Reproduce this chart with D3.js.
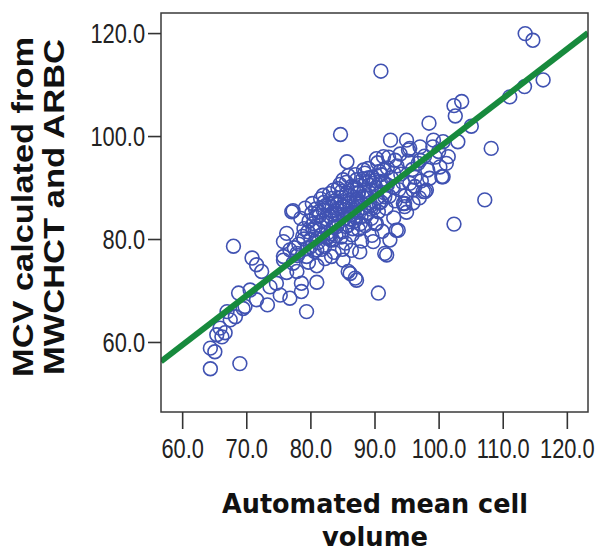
<!DOCTYPE html>
<html>
<head>
<meta charset="utf-8">
<script src="https://cdn.jsdelivr.net/npm/d3@7"></script>
<style>
  body { margin: 0; background: #fff; }
  svg { display: block; }
</style>
</head>
<body>
<svg id="chart" width="595" height="552"></svg>
<script>
// Automated MCV (x) vs MCV calculated from MWCHCT and ARBC (y)
const mcvAuto = [
  113.5, 114.7, 91.0, 116.3, 113.4, 111.1, 103.6, 102.4, 102.6, 98.5, 105.1, 84.7, 108.2, 107.2, 102.4,
  103.0, 100.7, 99.1, 101.2, 100.2, 100.5, 98.1, 96.3, 94.7, 95.5, 95.0, 97.1, 92.5, 85.7, 90.3,
  91.4, 93.2, 95.3, 97.1, 99.2, 100.7, 88.3, 87.2, 85.1, 83.6, 82.0, 98.6, 97.9,
  93.4, 90.3, 94.7, 97.6, 90.6, 87.0, 85.9, 91.9, 87.7, 89.8, 92.4, 93.7, 90.1, 91.6, 94.5, 96.0,
  85.1, 83.3, 86.2, 87.2,
  68.0, 70.9, 71.6, 72.4, 68.8, 70.6, 67.0, 67.5, 65.9, 66.7, 66.2, 64.4, 65.1, 64.4, 69.0,
  79.4, 81.0, 76.8, 73.3, 75.3, 71.6, 69.8, 73.7, 74.7, 78.6, 78.6, 76.3, 77.9, 75.8, 77.3,
  77.9, 79.4, 81.0, 77.1, 80.2, 76.3, 75.8, 76.8, 75.8, 77.3, 69.5, 68.3, 65.4,
  78.2, 78.8, 79.0, 79.5, 79.8, 80.1, 80.4, 80.6, 80.9, 81.2, 81.5, 81.8, 82.0, 82.2, 82.5,
  82.7, 82.9, 83.1, 83.4, 83.6, 83.8, 84.0, 84.2, 84.4, 84.7, 84.9, 85.1, 85.3, 85.5, 85.7,
  85.9, 86.1, 86.3, 86.5, 86.7, 86.9, 87.1, 87.3, 87.5, 87.7, 87.9, 88.1, 88.3, 88.5, 88.7,
  88.9, 89.1, 89.3, 89.5, 89.7, 89.9, 90.2, 90.4, 90.6, 90.8, 91.0, 91.3, 91.5, 91.8, 92.0,
  92.3, 92.6, 92.9, 93.2, 93.5, 93.8, 94.1, 94.4, 94.8, 95.2, 95.5, 95.9, 96.3, 96.8, 97.3,
  97.8, 98.3,
  77.5, 78.0, 78.5, 79.2, 79.7, 80.3, 81.0, 81.6, 82.3, 83.0, 83.7, 84.3, 85.0, 85.6, 86.4,
  87.0, 88.0, 89.0, 89.6, 90.5, 91.2, 92.2, 93.0, 94.0, 95.0, 96.0, 97.0, 99.5, 100.0, 101.5,
  80.5, 81.4, 82.8, 83.9, 84.6, 85.4, 86.2, 86.8, 87.6, 88.4, 89.2, 90.0, 91.0, 92.0, 93.0,
  83.2, 84.1, 85.8, 86.6, 87.8, 88.6, 89.4, 90.7, 91.6, 80.0, 81.8, 83.5, 84.8, 79.0,
  80.7, 81.3, 81.9, 82.4, 82.6, 83.0, 83.3, 83.8, 84.1, 84.5, 84.9, 85.2, 85.6, 86.0, 86.4,
  86.7, 87.1, 87.4, 87.9, 88.2, 88.8, 89.3, 89.8, 90.3, 90.9, 91.4, 79.6, 80.8, 82.1, 83.4,
  84.6, 85.9, 87.2, 88.5, 81.1, 82.9, 84.2, 86.1, 87.5, 89.1
];
const mcvCalc = [
  119.9, 118.6, 112.6, 110.9, 109.6, 107.6, 106.7, 105.9, 103.9, 102.5, 101.9, 100.3, 97.6, 87.6, 82.9,
  98.9, 98.9, 97.9, 94.7, 94.0, 92.1, 89.5, 90.2, 86.9, 97.6, 99.2, 95.3, 99.2, 95.0, 95.6,
  96.0, 95.3, 97.3, 97.9, 99.2, 92.1, 93.4, 91.5, 91.5, 89.5, 88.5, 91.8, 89.2,
  81.7, 83.0, 86.3, 89.2, 69.5, 72.4, 73.7, 76.9, 77.5, 79.5, 79.8, 81.7, 83.0, 77.2, 86.9, 89.5,
  75.9, 76.6, 73.3, 72.0,
  78.6, 76.3, 75.0, 73.7, 69.5, 70.1, 65.9, 64.3, 62.7, 61.8, 61.0, 58.8, 58.1, 54.8, 55.8,
  65.9, 71.6, 68.5, 67.2, 69.1, 68.2, 66.9, 70.7, 71.4, 69.8, 71.4, 73.5, 73.7, 75.9, 75.3,
  77.2, 76.6, 77.9, 85.3, 85.0, 81.1, 79.5, 77.9, 76.6, 85.5, 66.5, 64.9, 61.4,
  79.0, 80.5, 82.0, 78.2, 83.5, 80.0, 81.8, 77.6, 84.2, 79.3, 82.6, 80.8, 85.6, 78.5, 83.9,
  81.2, 86.8, 79.9, 84.8, 82.3, 87.4, 80.6, 85.9, 83.2, 88.0, 81.4, 86.3, 84.0, 79.2, 88.9,
  82.7, 86.9, 84.7, 80.8, 89.6, 83.5, 87.6, 85.2, 81.9, 90.4, 84.3, 88.2, 86.1, 82.6, 91.0,
  85.0, 89.1, 87.0, 84.0, 92.0, 86.0, 90.0, 88.0, 85.3, 93.1, 87.2, 91.1, 89.0, 86.0, 93.8,
  88.3, 91.9, 90.1, 87.4, 94.2, 89.6, 92.6, 91.0, 88.4, 95.1, 90.8, 93.5, 92.0, 94.7, 91.3,
  96.1, 93.4,
  78.3, 76.8, 84.0, 86.0, 75.5, 86.9, 74.8, 87.8, 76.2, 88.8, 77.4, 89.8, 78.0, 91.0, 77.8,
  92.5, 79.6, 93.7, 80.7, 94.8, 81.5, 95.9, 84.1, 96.5, 85.2, 87.0, 88.0, 95.9, 97.0, 96.0,
  83.0, 84.5, 83.0, 85.0, 86.0, 87.2, 88.4, 85.6, 86.8, 89.4, 90.5, 91.4, 92.5, 90.5, 92.8,
  81.0, 82.4, 84.8, 82.0, 83.0, 84.5, 85.8, 87.0, 88.2, 78.5, 78.0, 79.8, 80.4, 80.0,
  82.2, 85.3, 83.6, 86.5, 80.2, 84.4, 87.9, 83.0, 86.7, 84.6, 89.3, 85.7, 82.4, 87.5, 90.2,
  86.3, 84.1, 89.0, 87.0, 91.7, 88.0, 86.4, 90.8, 89.4, 91.2, 93.4, 81.4, 85.8, 87.1, 86.1,
  90.6, 92.3, 89.8, 92.8, 80.1, 80.5, 84.9, 83.9, 88.9, 91.9
];

// fit line: intercept, slope
const fitLine = [1.9, 0.958];

const xTicks = [60, 70, 80, 90, 100, 110, 120];
const yTicks = [60, 80, 100, 120];

const width = 595, height = 552;
const plot = { left: 161, right: 588, top: 13, bottom: 412 };

const svg = d3.select("#chart");

// scales
const xScale = d3.scaleLinear().domain([56.7, 123.3]).range([plot.left, plot.right]);
const yScale = d3.scaleLinear().domain([46.4, 123.9]).range([plot.bottom, plot.top]);

const points = mcvAuto.map((x, i) => ({ x, y: mcvCalc[i] }));

// clip to the plot frame
svg.append("clipPath").attr("id", "plotClip")
  .append("rect")
  .attr("x", plot.left).attr("y", plot.top)
  .attr("width", plot.right - plot.left).attr("height", plot.bottom - plot.top);

// points
svg.append("g")
  .attr("clip-path", "url(#plotClip)")
  .selectAll("circle")
  .data(points)
  .join("circle")
  .attr("cx", d => xScale(d.x))
  .attr("cy", d => yScale(d.y))
  .attr("r", 6.9)
  .attr("fill", "none")
  .attr("stroke", "#4052b2")
  .attr("stroke-width", 1.6);

// fit line across the whole x domain
const [b0, b1] = fitLine;
const lineData = xScale.domain().map(x => ({ x, y: b0 + b1 * x }));
svg.append("path")
  .datum(lineData)
  .attr("clip-path", "url(#plotClip)")
  .attr("fill", "none")
  .attr("stroke", "#178a3d")
  .attr("stroke-width", 6)
  .attr("d", d3.line().x(d => xScale(d.x)).y(d => yScale(d.y)));

// frame
svg.append("rect")
  .attr("x", plot.left).attr("y", plot.top)
  .attr("width", plot.right - plot.left).attr("height", plot.bottom - plot.top)
  .attr("fill", "none")
  .attr("stroke", "#3a3a3a")
  .attr("stroke-width", 1.5);

// x axis
const xAxis = svg.append("g")
  .attr("transform", `translate(0, ${plot.bottom})`)
  .call(d3.axisBottom(xScale).tickValues(xTicks).tickSize(17).tickFormat(d3.format(".1f")));
xAxis.select(".domain").remove();
xAxis.selectAll(".tick line").attr("stroke", "#333").attr("stroke-width", 1.6);
xAxis.selectAll(".tick text")
  .attr("y", 46).attr("dy", 0)
  .attr("fill", "#222")
  .attr("transform", "scale(0.78,1)")
  .style("font-family", "'Liberation Sans', Arial, sans-serif")
  .style("font-size", "28px");

// y axis
const yAxis = svg.append("g")
  .attr("transform", `translate(${plot.left}, 0)`)
  .call(d3.axisLeft(yScale).tickValues(yTicks).tickSize(13).tickFormat(d3.format(".1f")));
yAxis.select(".domain").remove();
yAxis.selectAll(".tick line").attr("stroke", "#333").attr("stroke-width", 1.6);
yAxis.selectAll(".tick text")
  .attr("x", -20.5).attr("dy", "0.35em")
  .attr("fill", "#222")
  .attr("transform", "scale(0.78,1)")
  .style("font-family", "'Liberation Sans', Arial, sans-serif")
  .style("font-size", "28px");

// y axis title (two lines, rotated)
const yTitle = ["MCV calculated from", "MWCHCT and ARBC"];
const yTitleLen = [340, 336];
const yTitleBase = [33, 64];
yTitle.forEach((t, i) => {
  svg.append("text")
    .attr("transform", `translate(${yTitleBase[i]}, 207) rotate(-90)`)
    .attr("text-anchor", "middle")
    .attr("textLength", yTitleLen[i])
    .attr("lengthAdjust", "spacingAndGlyphs")
    .style("font-family", "'Liberation Sans', Arial, sans-serif")
    .style("font-weight", "bold")
    .style("font-size", "29px")
    .attr("fill", "#111")
    .text(t);
});

// x axis title
const xTitle = ["Automated mean cell", "volume"];
const xTitleLen = [306, 106];
const xTitleBase = [513, 546];
xTitle.forEach((t, i) => {
  svg.append("text")
    .attr("x", 375)
    .attr("y", xTitleBase[i])
    .attr("text-anchor", "middle")
    .attr("textLength", xTitleLen[i])
    .attr("lengthAdjust", "spacingAndGlyphs")
    .style("font-family", "'DejaVu Sans', Verdana, sans-serif")
    .style("font-weight", "bold")
    .style("font-size", "26px")
    .attr("fill", "#111")
    .text(t);
});
</script>
</body>
</html>
